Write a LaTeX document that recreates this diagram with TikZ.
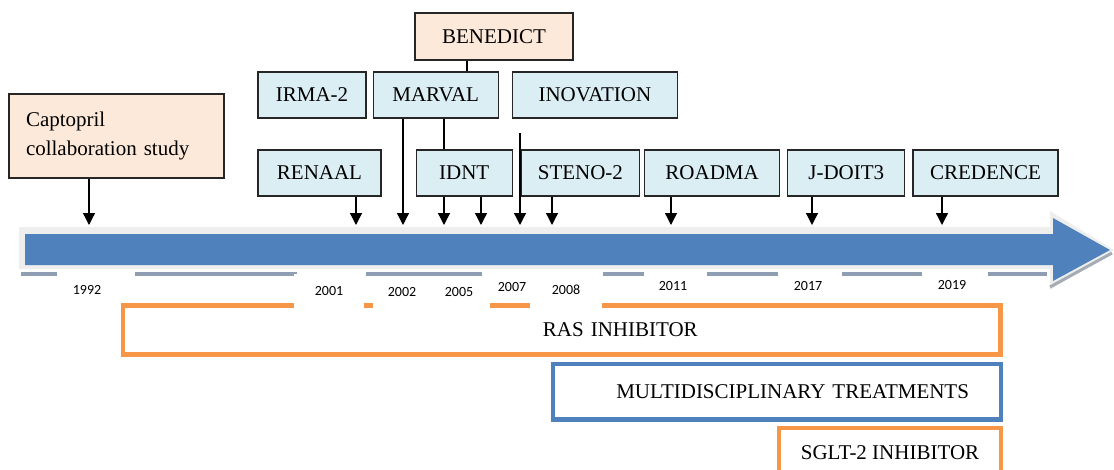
\documentclass[tikz,border=0pt]{standalone}
\usepackage{fontspec}
\setmainfont{Liberation Serif}
\newfontfamily\yearfont{Carlito}
\usepackage{tikz}
\usetikzlibrary{
    positioning,
    arrows.meta
}
\definecolor{trialBlue}{RGB}{219, 238, 244}
\definecolor{trialPeach}{RGB}{253, 233, 217}
\definecolor{lineBlue}{RGB}{79, 129, 189}
\definecolor{lineOrange}{RGB}{247, 150, 70}
\definecolor{tickGrey}{RGB}{143, 158, 178}
\definecolor{glowGrey}{RGB}{238, 238, 238}
\definecolor{shadeGrey}{RGB}{165, 172, 182}
\tikzset{
    % study boxes
    trial/.style={
        rectangle,
        draw=black!85,
        line width=1.2pt,
        fill=trialBlue,
        minimum height=46pt,
        inner sep=0pt,
        font=\fontsize{21}{29}\selectfont
    },
    % first study (peach)
    firsttrial/.style={trial, fill=trialPeach},
    % arrows down onto the time band
    pointer/.style={
        -{Triangle[width=12pt, length=12pt]},
        line width=1.3pt,
        color=black
    },
    % plain joining lines
    link/.style={line width=1.3pt, color=black},
    % therapy bars under the band
    therapy/.style={
        rectangle,
        line width=4.5pt,
        fill=white,
        inner sep=0pt,
        font=\fontsize{21}{25}\selectfont
    },
    % year labels
    year/.style={
        fill=white,
        inner sep=1pt,
        font=\yearfont\fontsize{14}{16}\selectfont
    },
    tickline/.style={color=tickGrey, line width=3.5pt}
}

\begin{document}
\begin{tikzpicture}[x=1pt, y=-1pt]

    \useasboundingbox (0,0) rectangle (1114,469);

    % time band (glow, shade, blue arrow)
    \fill[glowGrey] (19,227) -- (1050,227) -- (1050,211) -- (1114,250)
        -- (1050,290) -- (1050,269) -- (19,269) -- cycle;
    \draw[shadeGrey, line width=3pt] (1050,287) -- (1112,253);
    \fill[lineBlue] (25,234) -- (1053,234) -- (1053,218) -- (1110,250)
        -- (1053,281) -- (1053,265) -- (25,265) -- cycle;

    % grey dashes under the band
    \foreach \a/\b in {21/57, 135/297, 366/482, 603/644, 707/778, 842/922, 988/1047}
        \draw[tickline] (\a,274) -- (\b,274);

    % therapy bars
    \node[therapy, draw=lineOrange, minimum width=877.5pt, minimum height=49pt,
          text width=272pt, align=right] (ras) at (561.75,330) {RAS INHIBITOR};
    \node[therapy, draw=lineBlue, minimum width=448pt, minimum height=55.5pt,
          text width=384pt, align=right] (multi) at (777,391.75) {MULTIDISCIPLINARY TREATMENTS};
    \node[therapy, draw=lineOrange, minimum width=222pt, minimum height=50pt]
        (sglt) at (890,453) {SGLT-2 INHIBITOR};

    % years
    \node[year] (y1992) at (87,290) {1992};
    \node[year, minimum width=70pt, minimum height=34pt] (y2001) at (329,291) {2001};
    \node[year, minimum width=58pt, minimum height=32pt] (y2002) at (402,292) {2002};
    \node[year, minimum width=62pt, minimum height=32pt] (y2005) at (459,292) {2005};
    \node[year] (y2007) at (512,287) {2007};
    \node[year, minimum width=72pt, minimum height=36pt] (y2008) at (566,290) {2008};
    \node[year] (y2011) at (673,286) {2011};
    \node[year] (y2017) at (808,286) {2017};
    \node[year] (y2019) at (952,285) {2019};

    % [1] first study
    \node[firsttrial, minimum width=215pt, minimum height=84pt, text width=181pt,
          align=left] (capto) at (116.5,136) {Captopril\\collaboration study};

    % [2] top row
    \node[firsttrial, minimum width=158pt, minimum height=47pt] (benedict) at (494,36.5) {BENEDICT};

    % [3] middle row
    \node[trial, minimum width=108pt] (irma) at (312,95) {IRMA-2};
    \node[trial, minimum width=125pt, right=6pt of irma] (marval) {MARVAL};
    \node[trial, minimum width=165pt, right=13pt of marval] (inovation) {INOVATION};

    % [4] lower row
    \node[trial, minimum width=123pt] (renaal) at (319.5,173) {RENAAL};
    \node[trial, minimum width=96pt, right=34pt of renaal] (idnt) {IDNT};
    \node[trial, minimum width=118pt, right=8pt of idnt] (steno) {STENO-2};
    \node[trial, minimum width=135pt, right=4pt of steno] (roadma) {ROADMA};
    \node[trial, minimum width=117pt, right=7pt of roadma] (jdoit) {J-DOIT3};
    \node[trial, minimum width=145pt, right=7pt of jdoit] (credence) {CREDENCE};

    % arrow ends on the band
    \coordinate (aCapto) at (89,225);
    \coordinate (aRenaal) at (356,225);
    \coordinate (aMarval) at (403,225);
    \coordinate (aIdntA) at (444,225);
    \coordinate (aIdntB) at (481,225);
    \coordinate (aInov) at (520,225);
    \coordinate (aSteno) at (552,225);
    \coordinate (aRoadma) at (671,225);
    \coordinate (aJdoit) at (812,225);
    \coordinate (aCred) at (942,225);
    \coordinate (inovStub) at (520,133);
    \coordinate (bLink) at (467,0);

    % arrows
    \foreach \src/\pt in {capto/aCapto, renaal/aRenaal, marval/aMarval, idnt/aIdntA,
                          idnt/aIdntB, steno/aSteno, roadma/aRoadma, jdoit/aJdoit,
                          credence/aCred}
        \draw[pointer] (\src.south -| \pt) -- (\pt);
    \draw[pointer] (inovStub) -- (aInov);

    % joining lines
    \draw[link] (benedict.south -| bLink) -- (marval.north -| bLink);
    \draw[link] (marval.south -| aIdntA) -- (idnt.north -| aIdntA);

\end{tikzpicture}
\end{document}
